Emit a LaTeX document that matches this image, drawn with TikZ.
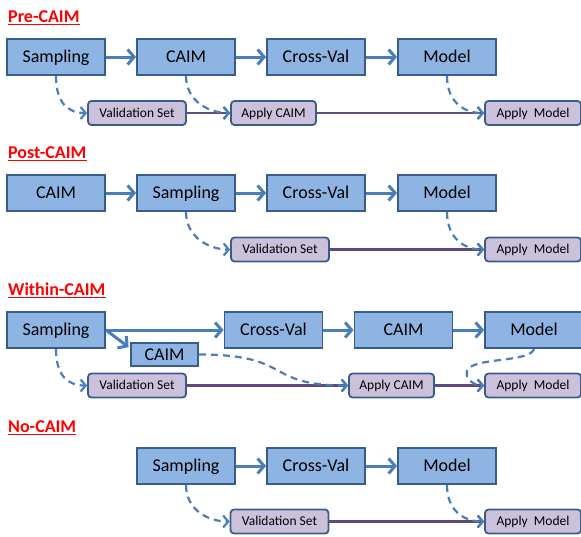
\documentclass[tikz,border=0pt]{standalone}
\usepackage{fontspec}
\setmainfont{Carlito}
\usetikzlibrary{arrows.meta,calc}
\definecolor{boxfill}{HTML}{8DB4E2}
\definecolor{boxline}{HTML}{385D8A}
\definecolor{arrowblue}{HTML}{4A7EBB}
\definecolor{smallfill}{HTML}{CCC1DA}
\definecolor{purpleline}{HTML}{604A7B}
\definecolor{titlered}{HTML}{FF0000}
\begin{document}
\begin{tikzpicture}[x=1pt,y=-1pt,
 bigbox/.style={draw=boxline, fill=boxfill, line width=1.8pt, minimum width=98pt, minimum height=36pt, inner sep=0pt, text height=14pt, text depth=3pt, font=\fontsize{18}{20}\selectfont},
 smallbox/.style={draw=boxline, fill=smallfill, rounded corners=3.5pt, line width=1.8pt, minimum width=98pt, minimum height=24pt, inner sep=0pt, text height=10.5pt, text depth=2pt, font=\fontsize{13.5}{15}\selectfont},
 flow/.style={draw=arrowblue, line width=3pt, -{Straight Barb[length=6.5pt,width=15pt,line width=3pt]}},
 dflow/.style={draw=arrowblue, line width=2.2pt, dash pattern=on 7pt off 5pt, -{Straight Barb[length=5pt,width=12pt,line width=2.2pt]}},
 pflow/.style={draw=purpleline, line width=2.2pt, -{Straight Barb[length=5pt,width=12pt,line width=2.2pt]}},
 sectitle/.style={anchor=base west, inner sep=0pt, text=titlered, font=\fontsize{18}{20}\selectfont\bfseries},
 uline/.style={draw=titlered, line width=1.8pt}
]
\useasboundingbox (0,0) rectangle (581,536);

% ---------- Pre-CAIM ----------
\node[sectitle] (t1) at (8,22) {Pre-CAIM};
\draw[uline] ([yshift=-2.5pt]t1.base west) -- ([yshift=-2.5pt]t1.base east);
\node[bigbox] (a1) at (56,57) {Sampling};
\node[bigbox] (a2) at (186,57) {CAIM};
\node[bigbox] (a3) at (316,57) {Cross-Val};
\node[bigbox] (a4) at (447,57) {Model};
\node[smallbox] (av) at (137,113) {Validation Set};
\node[smallbox, minimum width=85pt] (ac) at (273.5,113) {Apply CAIM};
\node[smallbox, minimum width=96pt] (am) at (533,113) {Apply~ Model};
\draw[flow] (a1) -- (a2);
\draw[flow] (a2) -- (a3);
\draw[flow] (a3) -- (a4);
\draw[pflow] (av) -- (ac);
\draw[pflow] (ac) -- (am);
\draw[dflow] (a1.south) .. controls +(0,26) and +(-20,0) .. (av.west);
\draw[dflow] (a2.south) .. controls +(0,26) and +(-20,0) .. (ac.west);
\draw[dflow] (a4.south) .. controls +(0,26) and +(-20,0) .. (am.west);

% ---------- Post-CAIM ----------
\node[sectitle] (t2) at (8,158) {Post-CAIM};
\draw[uline] ([yshift=-2.5pt]t2.base west) -- ([yshift=-2.5pt]t2.base east);
\node[bigbox] (b1) at (56,193) {CAIM};
\node[bigbox] (b2) at (186,193) {Sampling};
\node[bigbox] (b3) at (316,193) {Cross-Val};
\node[bigbox] (b4) at (447,193) {Model};
\node[smallbox] (bv) at (280,249.5) {Validation Set};
\node[smallbox, minimum width=96pt] (bm) at (533,249.5) {Apply~ Model};
\draw[flow] (b1) -- (b2);
\draw[flow] (b2) -- (b3);
\draw[flow] (b3) -- (b4);
\draw[pflow] (bv) -- (bm);
\draw[dflow] (b2.south) .. controls +(0,26) and +(-20,0) .. (bv.west);
\draw[dflow] (b4.south) .. controls +(0,26) and +(-20,0) .. (bm.west);

% ---------- Within-CAIM ----------
\node[sectitle] (t3) at (8,295) {Within-CAIM};
\draw[uline] ([yshift=-2.5pt]t3.base west) -- ([yshift=-2.5pt]t3.base east);
\node[bigbox] (c1) at (56,330) {Sampling};
\node[bigbox] (c3) at (273.5,330) {Cross-Val};
\node[bigbox] (c4) at (403.5,330) {CAIM};
\node[bigbox] (c5) at (534,330) {Model};
\node[bigbox, minimum width=67pt, minimum height=23pt, text height=13pt, text depth=1pt] (c2) at (164.5,354.5) {CAIM};
\node[smallbox] (cv) at (137,385.5) {Validation Set};
\node[smallbox, minimum width=85pt] (cc) at (391.5,385.5) {Apply CAIM};
\node[smallbox, minimum width=96pt] (cm) at (533,385.5) {Apply~ Model};
\draw[flow] (c1.east) -- (c3.west);
\draw[flow] (c1.east) -- ($(c2.north west)+(-1.5,5)$);
\draw[flow] (c3) -- (c4);
\draw[flow] (c4) -- (c5);
\draw[pflow] (cv) -- (cc);
\draw[pflow] (cc) -- (cm);
\draw[dflow] (c1.south) .. controls +(0,26) and +(-20,0) .. (cv.west);
\draw[dflow] (c2.east) .. controls +(95,0) and +(-85,0) .. (cc.west);
\draw[dflow] (c5.south) .. controls +(-4,14) and +(4,-14) .. (467,371) .. controls +(-2,8) and +(-10,0) .. (cm.west);

% ---------- No-CAIM ----------
\node[sectitle] (t4) at (8,432) {No-CAIM};
\draw[uline] ([yshift=-2.5pt]t4.base west) -- ([yshift=-2.5pt]t4.base east);
\node[bigbox] (d1) at (186,466) {Sampling};
\node[bigbox] (d2) at (316,466) {Cross-Val};
\node[bigbox] (d3) at (447,466) {Model};
\node[smallbox] (dv) at (279.5,521.5) {Validation Set};
\node[smallbox, minimum width=96pt] (dm) at (533,521.5) {Apply~ Model};
\draw[flow] (d1) -- (d2);
\draw[flow] (d2) -- (d3);
\draw[pflow] (dv) -- (dm);
\draw[dflow] (d1.south) .. controls +(0,26) and +(-20,0) .. (dv.west);
\draw[dflow] (d3.south) .. controls +(0,26) and +(-20,0) .. (dm.west);
\end{tikzpicture}
\end{document}
